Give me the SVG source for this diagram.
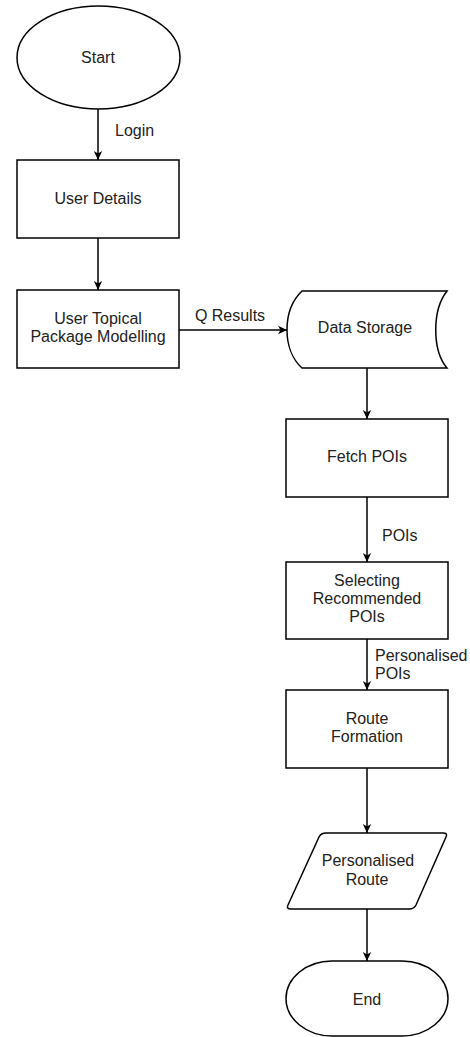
<svg xmlns="http://www.w3.org/2000/svg" width="470" height="1037" viewBox="0 0 470 1037">
<defs>
<marker id="arr" markerWidth="10" markerHeight="10" refX="9" refY="5" orient="auto" markerUnits="userSpaceOnUse">
<path d="M0,0.8 L9,5 L0,9.2 L2.5,5 Z" fill="#000"/>
</marker>
<style>
.shape{fill:#fff;stroke:#000;stroke-width:1.5}
.edge{fill:none;stroke:#000;stroke-width:1.5;marker-end:url(#arr)}
text{font-family:"Liberation Sans",Arial,Helvetica,sans-serif;font-size:16px;fill:#222}
.c{text-anchor:middle}
</style>
</defs>
<rect width="470" height="1037" fill="#fff"/>
<g id="connectors">
<path class="edge" d="M98,109 L98,160"/>
<path class="edge" d="M98,238 L98,290"/>
<path class="edge" d="M179,330 L287,330"/>
<path class="edge" d="M367,368 L367,419"/>
<path class="edge" d="M367,497 L367,562"/>
<path class="edge" d="M367,639 L367,690"/>
<path class="edge" d="M367,768 L367,833"/>
<path class="edge" d="M367,909 L367,961"/>
<text x="115" y="136">Login</text>
<text x="230" y="321" class="c">Q Results</text>
<text x="382" y="541">POIs</text>
<text x="375" y="661">Personalised</text>
<text x="375" y="679">POIs</text>
</g>
<g id="start">
<ellipse class="shape" cx="98.5" cy="57.5" rx="81.5" ry="51.5"/>
<text x="98" y="63" class="c">Start</text>
</g>
<g id="user-details">
<rect class="shape" x="17" y="160" width="162" height="78"/>
<text x="98" y="204" class="c">User Details</text>
</g>
<g id="user-topical">
<rect class="shape" x="17" y="290" width="162" height="78"/>
<text x="98" y="324" class="c">User Topical</text>
<text x="98" y="342" class="c">Package Modelling</text>
</g>
<g id="data-storage">
<path class="shape" d="M302,291 L447,291 C432,310 432,350 447,368 L302,368 C282,350 282,310 302,291 Z"/>
<text x="365" y="333" class="c">Data Storage</text>
</g>
<g id="fetch-pois">
<rect class="shape" x="286" y="419" width="162" height="78"/>
<text x="367" y="462" class="c">Fetch POIs</text>
</g>
<g id="selecting">
<rect class="shape" x="286" y="562" width="162" height="77"/>
<text x="367" y="586" class="c">Selecting</text>
<text x="367" y="604" class="c">Recommended</text>
<text x="367" y="622" class="c">POIs</text>
</g>
<g id="route-formation">
<rect class="shape" x="286" y="690" width="162" height="78"/>
<text x="367" y="724" class="c">Route</text>
<text x="367" y="742" class="c">Formation</text>
</g>
<g id="personalised-route">
<path class="shape" d="M326,833 L443,833 Q448,833 446,837 L416,905 Q414,909 409,909 L291,909 Q286,909 288,905 L319,837 Q321,833 326,833 Z"/>
<text x="368" y="866" class="c">Personalised</text>
<text x="367" y="885" class="c">Route</text>
</g>
<g id="end">
<rect class="shape" x="286" y="961" width="162" height="75" rx="46" ry="37.5"/>
<text x="367" y="1005" class="c">End</text>
</g>
</svg>
